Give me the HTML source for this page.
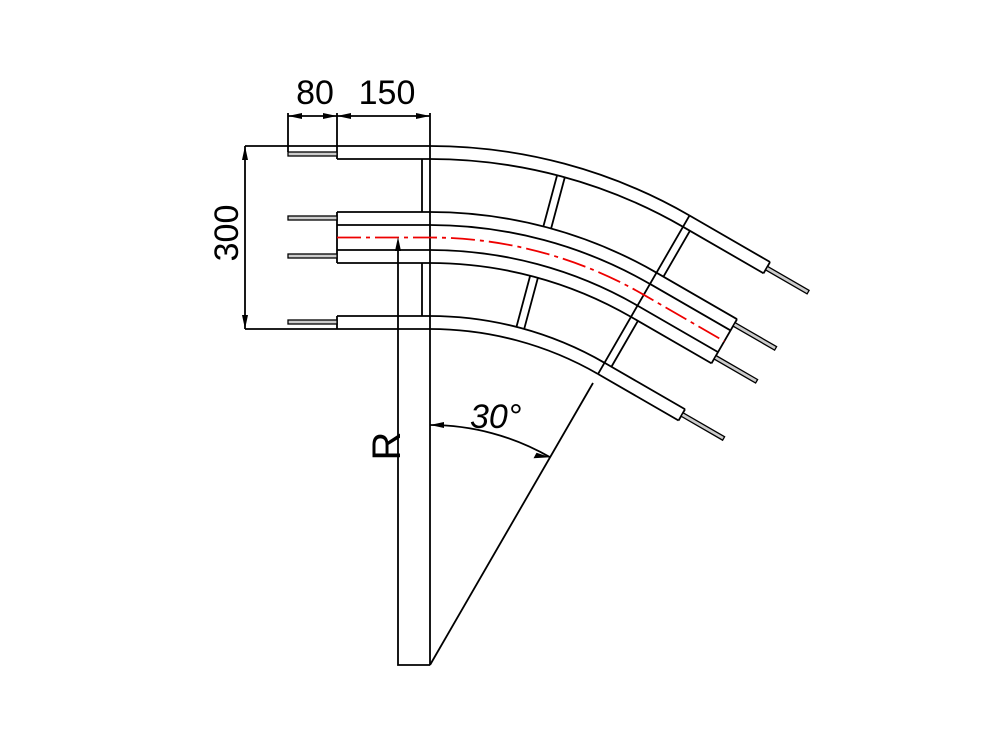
<!DOCTYPE html>
<html><head><meta charset="utf-8"><style>body{margin:0;background:#fff}svg{display:block}</style></head><body>
<svg width="1000" height="750" viewBox="0 0 1000 750" xmlns="http://www.w3.org/2000/svg" font-family="Liberation Sans, sans-serif">
<defs>
<g id="lt" stroke="#000" stroke-width="1.8" fill="none">
 <path d="M245 146H430M337 159H430M337 212H430M337 225H430M337 250H430M337 263H430M337 316H430M245 329H430"/>
 <path d="M337 146V159M337 212V263M337 316V329"/>
 <path d="M422 159V212M422 263V316"/>
</g>
</defs>
<g stroke="#000" stroke-width="1.8" fill="none">
 <use href="#lt"/>
 <g fill="#ccc" stroke-width="1.3">
  <rect x="288" y="152" width="49" height="4"/>
  <rect x="288" y="216" width="49" height="4"/>
  <rect x="288" y="254" width="49" height="4"/>
  <rect x="288" y="320" width="49" height="4"/>
 </g>
 <path d="M430 146V665"/>
 <path d="M430 146A519 519 0 0 1 689.5 215.5"/>
 <path d="M430 159A506 506 0 0 1 683 226.8"/>
 <path d="M430 212A453 453 0 0 1 656.5 272.7"/>
 <path d="M430 225A440 440 0 0 1 650 284"/>
 <path d="M430 250A415 415 0 0 1 637.5 305.6"/>
 <path d="M430 263A402 402 0 0 1 631 316.9"/>
 <path d="M430 316A349 349 0 0 1 604.5 362.8"/>
 <path d="M430 329A336 336 0 0 1 598 374"/>
 <g transform="rotate(15 430 665)">
  <path d="M426 159V212M434 159V212M426 263V316M434 263V316"/>
 </g>
 <g transform="rotate(30 430 665)">
  <path d="M430 146H523M430 159H523M430 212H523M430 225H523M430 250H523M430 263H523M430 316H523M430 329H523"/>
  <path d="M523 146V159M523 212V263M523 316V329"/>
  <path d="M430 146V329M438 159V212M438 263V316"/>
  <g fill="#ccc" stroke-width="1.3">
   <rect x="523" y="151" width="48" height="4"/>
   <rect x="523" y="216" width="48" height="4"/>
   <rect x="523" y="254" width="48" height="4"/>
   <rect x="523" y="320" width="48" height="4"/>
  </g>
 </g>
 <g stroke="#e00" stroke-width="1.8" stroke-dasharray="24 5 4 5">
  <path d="M337 237.5H430A427.5 427.5 0 0 1 643.8 294.8L724.3 341.3"/>
 </g>
 <path d="M430 665L593 383"/>
 <path d="M398 243V665H430"/>
 <path d="M288 113V152M337 113V146M430 113V146M288 116H430"/>
 <path d="M245 146V329"/>
 <path d="M430 425A240 240 0 0 1 550 457.2"/>
</g>
<g fill="#000">
 <path d="M398 237l-3 14h6z"/>
 <path d="M288 116l14-3v6zM337 116l-14-3v6zM337 116l14-3v6zM430 116l-14-3v6z"/>
 <path d="M245 146l-3 14h6zM245 329l-3-14h6z"/>
 <path d="M430 425l14-3v6z"/>
 <path d="M550 457.2l-13.5 -4.5 -3 5.5z"/>
</g>
<g font-size="34" fill="#000">
 <text x="315" y="104" text-anchor="middle">80</text>
 <text x="387" y="104" text-anchor="middle">150</text>
 <text transform="translate(238 233) rotate(-90)" text-anchor="middle">300</text>
 <text transform="translate(400 446) rotate(-90)" text-anchor="middle" font-size="40">R</text>
 <text x="470" y="428" font-style="italic">30°</text>
</g>
</svg>
</body></html>
